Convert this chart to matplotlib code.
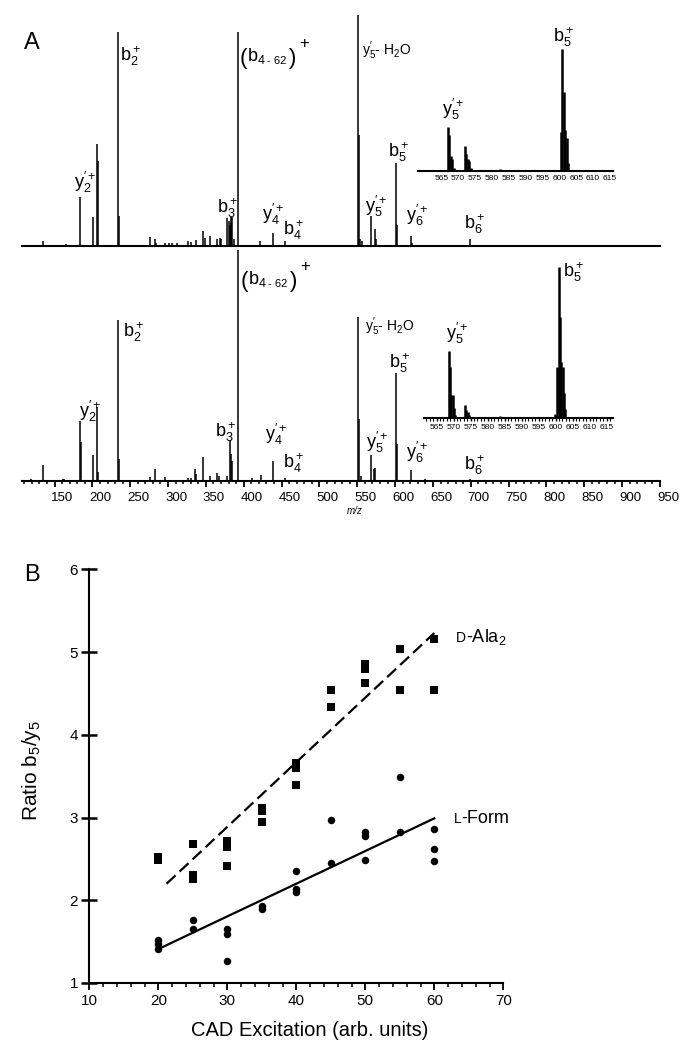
import matplotlib
matplotlib.use("Agg")
import matplotlib.pyplot as plt
from matplotlib.ticker import MultipleLocator
from matplotlib.transforms import ScaledTranslation

plt.rcParams['font.family'] = ['Liberation Sans', 'DejaVu Sans']
plt.rcParams['mathtext.fontset'] = 'custom'
plt.rcParams['mathtext.rm'] = 'Liberation Sans'
plt.rcParams['mathtext.it'] = 'Liberation Sans:italic'
plt.rcParams['mathtext.bf'] = 'Liberation Sans:bold'
plt.rcParams['mathtext.default'] = 'regular'

# ---- panel A: MS/MS spectra (m/z, relative intensity) ----
top_mz = [134.3, 165, 183.5, 201, 206.3, 207.6, 234, 235.4, 275.5, 282.5, 284.7,
          296, 301.3, 305.8, 311.5, 326.9, 330, 336.5, 346.2, 348.4, 355, 364.6,
          368.2, 370.4, 378.4, 380.1, 381.4, 382.7, 383.6, 385, 386.7, 392.4,
          421.9, 439, 454.4, 550.7, 552, 553.4, 556.5, 568.7, 573.6, 575.3,
          601.3, 602.6, 621.5, 622.8, 698.9]
top_int = [0.02, 0.01, 0.21, 0.124, 0.44, 0.37, 0.926, 0.13, 0.04, 0.03, 0.015,
           0.015, 0.012, 0.012, 0.012, 0.022, 0.017, 0.026, 0.065, 0.036, 0.043, 0.029,
           0.036, 0.032, 0.12, 0.11, 0.09, 0.125, 0.1, 0.127, 0.03, 0.925,
           0.02, 0.055, 0.023, 1.0, 0.48, 0.03, 0.02, 0.13, 0.072, 0.03,
           0.358, 0.09, 0.043, 0.015, 0.03]

bot_mz = [118.7, 135.2, 160.7, 162.8, 183.5, 184.8, 201, 206.3, 207.6, 234, 235.4,
          275.5, 282.5, 296.6, 326.9, 330, 335.6, 337.4, 346.2, 355, 364.2, 367.3,
          378.4, 381.4, 383.6, 385, 392.4, 411.3, 422.3, 439, 454.4, 550.7, 552,
          555.2, 568.7, 571.8, 573.6, 601.3, 602.6, 621.5, 640, 698.9]
bot_int = [0.01, 0.068, 0.008, 0.008, 0.258, 0.17, 0.111, 0.32, 0.04, 0.695, 0.094,
           0.017, 0.053, 0.017, 0.015, 0.015, 0.05, 0.03, 0.104, 0.022, 0.036, 0.022,
           0.022, 0.176, 0.115, 0.087, 1.0, 0.015, 0.026, 0.087, 0.015, 0.71, 0.27,
           0.022, 0.111, 0.05, 0.058, 0.468, 0.16, 0.046, 0.007, 0.007]

# zoomed insets (565-615 window)
ins_top_mz = [558.9, 559.7, 567.1, 567.4, 567.9, 568.3, 568.7, 572.0, 572.3, 572.8,
              573.3, 573.7, 582.4, 600.5, 600.9, 601.3, 601.8, 602.2, 602.7]
ins_top_int = [0.008, 0.008, 0.333, 0.278, 0.114, 0.088, 0.02, 0.194, 0.13, 0.09,
               0.075, 0.02, 0.013, 0.3, 0.93, 0.6, 0.31, 0.25, 0.06]

ins_bot_mz = [568.6, 568.9, 569.3, 569.7, 570.1, 570.5, 573.3, 573.7, 574.2, 574.6,
              583.6, 599.9, 600.5, 600.9, 601.3, 601.6, 602.1, 602.4, 602.9]
ins_bot_int = [0.40, 0.30, 0.135, 0.135, 0.06, 0.018, 0.075, 0.048, 0.035, 0.018,
               0.01, 0.025, 0.3, 0.90, 0.6, 0.33, 0.3, 0.15, 0.05]

mz_ticks = list(range(150, 951, 50))
ins_ticks = list(range(565, 616, 5))

# ---- panel B: b5/y5 ratio vs CAD excitation ----
dala_x = [20, 20, 25, 25, 25, 30, 30, 30, 35, 35, 35, 40, 40, 40, 45, 45,
          50, 50, 50, 55, 55, 60, 60]
dala_y = [2.52, 2.49, 2.68, 2.30, 2.26, 2.72, 2.64, 2.41, 3.12, 3.08, 2.94,
          3.66, 3.60, 3.39, 4.54, 4.34, 4.85, 4.80, 4.62, 5.04, 4.54, 5.16, 4.54]
lform_x = [20, 20, 20, 25, 25, 30, 30, 30, 35, 35, 40, 40, 40, 45, 45,
           50, 50, 50, 55, 55, 60, 60, 60]
lform_y = [1.52, 1.47, 1.41, 1.76, 1.65, 1.65, 1.59, 1.26, 1.93, 1.89, 2.35, 2.14,
           2.10, 2.97, 2.45, 2.83, 2.78, 2.49, 3.49, 2.82, 2.86, 2.62, 2.48]
dala_fit_x = [21.2, 60]
dala_fit_y = [2.20, 5.23]
lform_fit_x = [20, 60]
lform_fit_y = [1.41, 2.99]

W, H = 691, 1050
fig = plt.figure(figsize=(W / 100, H / 100), dpi=100)


def box(x0, y0, x1, y1):
    # pixel rectangle (top-left origin) -> figure fraction
    return [x0 / W, 1 - y1 / H, (x1 - x0) / W, (y1 - y0) / H]


def txt(x, y, s, size=13, **kw):
    kw.setdefault('ha', 'left')
    kw.setdefault('va', 'baseline')
    fig.text(x / W, 1 - y / H, s, fontsize=size, **kw)


def spectrum_axes(rect):
    ax = fig.add_axes(rect)
    for s in ('top', 'left', 'right'):
        ax.spines[s].set_visible(False)
    ax.spines['bottom'].set_linewidth(1.5)
    ax.set_yticks([])
    ax.patch.set_alpha(0)
    return ax


ax_top = spectrum_axes(box(22, 15, 660, 246))
ax_top.vlines(top_mz, 0, top_int, color='black', lw=1.1)
ax_top.set_xlim(107, 950)
ax_top.set_ylim(0, 1)
ax_top.set_xticks([])

ax_bot = spectrum_axes(box(22, 250, 660, 481))
ax_bot.vlines(bot_mz, 0, bot_int, color='black', lw=1.1, clip_on=False)
ax_bot.set_xlim(107, 950)
ax_bot.set_ylim(0, 1)
ax_bot.set_xticks(mz_ticks)
ax_bot.xaxis.set_minor_locator(MultipleLocator(10))
ax_bot.tick_params(axis='x', which='major', direction='out', length=4, width=1.3,
                   labelsize=9.5, pad=4)
ax_bot.tick_params(axis='x', which='minor', direction='out', length=2.5, width=1.1)
shift = ScaledTranslation(0.08, 0, fig.dpi_scale_trans)
for lab in ax_bot.get_xticklabels():
    lab.set_transform(lab.get_transform() + shift)

ins_top = spectrum_axes(box(418.3, 40, 613.3, 171))
ins_top.vlines(ins_top_mz, 0, ins_top_int, color='black', lw=1.8)
ins_top.set_xlim(558.2, 616)
ins_top.set_ylim(0, 1)
ins_top.set_xticks(ins_ticks)
ins_top.tick_params(axis='x', length=0, labelsize=6, pad=3)

ins_bot = spectrum_axes(box(424.3, 250, 612.7, 417.7))
ins_bot.vlines(ins_bot_mz, 0, ins_bot_int, color='black', lw=1.8)
ins_bot.set_xlim(561.4, 616.8)
ins_bot.set_ylim(0, 1)
ins_bot.set_xticks(ins_ticks)
ins_bot.xaxis.set_minor_locator(MultipleLocator(1))
ins_bot.tick_params(axis='x', which='major', length=2.5, width=1, labelsize=6, pad=2)
ins_bot.tick_params(axis='x', which='minor', length=1.8, width=0.8)

txt(355, 514, 'm/z', size=7, ha='center', style='italic')
txt(32, 43, 'A', size=17, ha='center', va='center')

# peak labels, top spectrum
txt(120, 61, '$b_2^+$')
txt(74, 188, "$y_2^{\\prime+}$")
txt(216.7, 213.3, '$b_3^+$')
txt(261.7, 220, "$y_4^{\\prime+}$")
txt(282.7, 235, '$b_4^+$')
txt(361.7, 55.5, "$y_5^{\\prime}$- H$_2$O", size=10)
txt(553.3, 41.7, '$b_5^+$')
txt(441.7, 115, "$y_5^{\\prime+}$")
txt(388.3, 156.7, '$b_5^+$')
txt(365, 211.7, "$y_5^{\\prime+}$")
txt(405.7, 220.7, "$y_6^{\\prime+}$")
txt(464.3, 229.3, '$b_6^+$')

# peak labels, bottom spectrum
txt(122.7, 336.7, '$b_2^+$')
txt(79, 416.7, "$y_2^{\\prime+}$")
txt(215, 436.7, '$b_3^+$')
txt(265, 440, "$y_4^{\\prime+}$")
txt(282.7, 468.3, '$b_4^+$')
txt(365, 330.7, "$y_5^{\\prime}$- H$_2$O", size=10)
txt(446, 339.3, "$y_5^{\\prime+}$")
txt(562.7, 276.7, '$b_5^+$')
txt(389.3, 368.3, '$b_5^+$')
txt(366, 448.3, "$y_5^{\\prime+}$")
txt(406, 458.3, "$y_6^{\\prime+}$")
txt(464.3, 470, '$b_6^+$')

# (b4 - 62)+ labels
for dx, dy in ((0, 0), (1, 223)):
    txt(240 + dx, 64 + dy, '(', size=16)
    txt(247 + dx, 61 + dy, '$b_4$', size=13)
    txt(267 + dx, 64 + dy, '- 62', size=8)
    txt(289 + dx, 64 + dy, ')', size=16)
    txt(299 + dx, 48 + dy, '+', size=12)

# ---- panel B ----
axB = fig.add_axes(box(89.3, 569.3, 503.3, 983))
axB.plot(dala_x, dala_y, 's', color='black', ms=5.2, mew=0)
axB.plot(lform_x, lform_y, 'o', color='black', ms=5.4, mew=0)
axB.plot(dala_fit_x, dala_fit_y, color='black', lw=1.6, ls=(0, (5.5, 2.5)))
axB.plot(lform_fit_x, lform_fit_y, color='black', lw=1.6)
axB.set_xlim(10, 70)
axB.set_ylim(1, 6)
for s in ('top', 'right'):
    axB.spines[s].set_visible(False)
for s in ('left', 'bottom'):
    axB.spines[s].set_linewidth(1.5)
axB.set_xticks(range(10, 71, 10))
axB.xaxis.set_minor_locator(MultipleLocator(2))
axB.set_yticks(range(1, 7))
axB.tick_params(axis='x', which='major', direction='out', length=5, width=1.3,
                labelsize=11, pad=3)
axB.tick_params(axis='x', which='minor', direction='out', length=3, width=1.1)
axB.tick_params(axis='y', direction='inout', length=12, width=1.8, labelsize=11, pad=2)

txt(32, 575, 'B', size=17, ha='center', va='center')
txt(310, 1031, 'CAD Excitation (arb. units)', size=14.5, ha='center', va='center')
txt(32, 771, 'Ratio b$_5$/y$_5$', size=15, ha='center', va='center', rotation=90)
txt(455.7, 641.7, 'D', size=10)
txt(465.5, 641.7, '-Ala$_2$', size=13)
txt(454.3, 822.7, 'L', size=10)
txt(461.5, 822.7, '-Form', size=13)

fig.savefig('out.png', dpi=100)
